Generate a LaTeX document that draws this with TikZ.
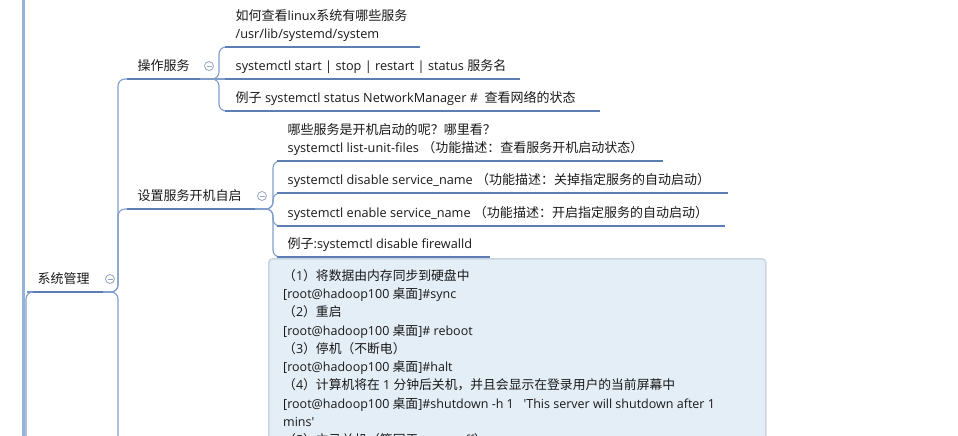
\documentclass[tikz,border=0pt]{standalone}
\usepackage{fontspec}
\setmainfont{Open Sans}
\newfontfamily\cjk{Noto Sans CJK SC}[Scale=1.024]
\newfontfamily\latin{Open Sans}
\XeTeXinterchartokenstate=1
\chardef\cjkclass=7
\makeatletter
\count@="3000
\loop \XeTeXcharclass\count@=\cjkclass \ifnum\count@<"9FFF \advance\count@ 1 \repeat
\count@="FF00
\loop \XeTeXcharclass\count@=\cjkclass \ifnum\count@<"FFEF \advance\count@ 1 \repeat
\makeatother
\XeTeXinterchartoks 0 \cjkclass = {\cjk}
\XeTeXinterchartoks 4095 \cjkclass = {\cjk}
\XeTeXinterchartoks \cjkclass 0 = {\latin}
\XeTeXinterchartoks \cjkclass 4095 = {\latin}
\newcommand\sq{\XeTeXglyph\XeTeXcharglyph"27\relax}
\definecolor{txt}{RGB}{25,25,25}
\definecolor{ul}{RGB}{92,126,180}
\definecolor{cn}{RGB}{128,156,202}
\definecolor{rootc}{RGB}{148,178,220}
\definecolor{fd}{RGB}{150,164,190}
\definecolor{boxfill}{RGB}{228,238,246}
\definecolor{boxline}{RGB}{200,214,228}
\begin{document}
\begin{tikzpicture}[x=1pt,y=-1pt,
  topic/.style={anchor=south west, inner xsep=10.5pt, inner ysep=8pt, text depth=0pt,
    font=\fontsize{12.7}{18}\selectfont, text=txt, align=left},
  uline/.style={draw=ul, line width=2.6pt},
  conn/.style={draw=cn, line width=1.1pt, rounded corners=7pt},
  rootline/.style={draw=rootc, line width=3pt},
  fold/.style={circle, draw=fd, fill=white, minimum size=9pt, inner sep=0pt, line width=0.8pt,
    path picture={\draw[fd, line width=0.8pt] ([xshift=-2.5pt]path picture bounding box.center) -- ([xshift=2.5pt]path picture bounding box.center);}},
  memo/.style={draw=boxline, fill=boxfill, line width=1.6pt, rounded corners=4pt, anchor=north west, inner sep=0pt},
  memotext/.style={anchor=north west, inner sep=0pt, align=left, text=txt, font=\fontsize{12.5}{18.3}\selectfont}
]
\useasboundingbox (0,0) rectangle (958,436);
\clip (0,0) rectangle (958,436);

% root line
\coordinate (root-top) at (23,-5);
\coordinate (root-bot) at (23,445);
\draw[rootline] (root-top) -- (root-bot);

% level 1
\node[topic] (sys) at (27,292) {系统管理};
\coordinate (sys-e) at ([xshift=76pt]sys.south west);
\draw[uline] (sys.south west) -- (sys-e);
\node[fold] (sys-f) at (110,279) {};
\coordinate (sys-in) at (26,450);
\draw[conn] (sys-in) |- (sys.south west);

% level 2
\node[topic] (ops) at (127,79) {操作服务};
\coordinate (ops-e) at ([xshift=73pt]ops.south west);
\node[topic] (boot) at (127,209) {设置服务开机自启};
\coordinate (boot-e) at ([xshift=128pt]boot.south west);
\coordinate (sys-more) at (118,450);

\draw[conn] (sys-e) -- ++(15,0) |- (ops.south west);
\draw[conn] (sys-e) -- ++(15,0) |- (boot.south west);
\draw[conn] (sys-e) -- ++(15,0) -- (sys-more);
\draw[uline] (ops.south west) -- (ops-e);
\draw[uline] (boot.south west) -- (boot-e);
\node[fold] (ops-f) at (209,66) {};
\node[fold] (boot-f) at (262,196) {};

% children of ops
\node[topic] (c1) at (225,47) {如何查看linux系统有哪些服务\\/usr/lib/systemd/system};
\node[topic] (c2) at (225,79) {systemctl start | stop | restart | status 服务名};
\node[topic] (c3) at (225,111) {例子 systemctl status NetworkManager \#\ \ 查看网络的状态};
\draw[conn] (ops-e) -- ++(19,0) |- (c1.south west);
\draw[conn] (ops-e) -- (c2.south west);
\draw[conn] (ops-e) -- ++(19,0) |- (c3.south west);
\draw[uline] (c1.south west) -- ++(195,0);
\draw[uline] (c2.south west) -- ++(295,0);
\draw[uline] (c3.south west) -- ++(375,0);

% children of boot
\node[topic] (b1) at (277,161) {哪些服务是开机启动的呢？哪里看？\\systemctl list-unit-files （功能描述：查看服务开机启动状态）};
\node[topic] (b2) at (277,193) {systemctl disable service\_name （功能描述：关掉指定服务的自动启动）};
\node[topic] (b3) at (277,226) {systemctl enable service\_name （功能描述：开启指定服务的自动启动）};
\node[topic] (b4) at (277,257) {例子:systemctl disable firewalld};
\draw[conn] (boot-e) -- ++(18,0) |- (b1.south west);
\draw[conn] (boot-e) -- ++(18,0) |- (b2.south west);
\draw[conn] (boot-e) -- ++(18,0) |- (b3.south west);
\draw[conn] (boot-e) -- ++(18,0) |- (b4.south west);
\draw[uline] (b1.south west) -- ++(386,0);
\draw[uline] (b2.south west) -- ++(451,0);
\draw[uline] (b3.south west) -- ++(448,0);
\draw[uline] (b4.south west) -- ++(213,0);

% memo box
\node[memo, minimum width=497pt, minimum height=230pt] (box) at (268,258) {};
\node[memotext] (boxtext) at ([xshift=15pt,yshift=-11pt]box.north west) {%
（1）将数据由内存同步到硬盘中\\
{[}root@hadoop100 桌面]\#sync\\
（2）重启\\
{[}root@hadoop100 桌面]\# reboot\\
（3）停机（不断电）\\
{[}root@hadoop100 桌面]\#halt\\
（4）计算机将在 1 分钟后关机，并且会显示在登录用户的当前屏幕中\\
{[}root@hadoop100 桌面]\#shutdown -h 1\ \ \ \sq This server will shutdown after 1\\
mins\sq\\
（5）立马关机（等同于 poweroff）};
\end{tikzpicture}
\end{document}
